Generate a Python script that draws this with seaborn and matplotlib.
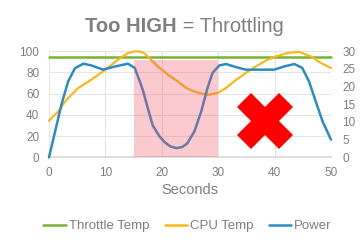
import matplotlib
matplotlib.use("Agg")
import matplotlib.pyplot as plt
import seaborn as sns
import pandas as pd
from matplotlib.patches import Rectangle
from matplotlib.lines import Line2D

# ---- data ----
seconds_ticks = [0, 10, 20, 30, 40, 50]
left_ticks = [0, 20, 40, 60, 80, 100]
right_ticks = [0, 5, 10, 15, 20, 25, 30]

throttle_x = [0, 50]
throttle_temp = [95, 95]

cpu_x = [0, 1.65, 3.1, 5.2, 7.5, 10, 12.2, 14, 15.4, 16.3, 17, 17.8, 19.3, 21.1,
         22.8, 24.3, 25.5, 26.7, 28.4, 29.9, 31.4, 33.2, 34.9, 36.7, 38.4, 39.9,
         42.3, 44.3, 46.4, 48.2, 50]
cpu_temp = [34.5, 43.4, 54.3, 65.4, 73.2, 82.6, 92, 98.4, 100, 99.6, 97.8, 93.5,
            85.8, 77.9, 71.7, 65.5, 62.5, 60.5, 59, 60.7, 65.4, 73.2, 79.5, 85.8,
            91.1, 94.6, 98.4, 99.5, 95.3, 89, 84.2]

power_x = [0, 1.1, 2.2, 3.4, 4.6, 6.1, 7.5, 9.6, 11.7, 14, 15.2, 16.1, 16.7, 17.5,
           18.4, 19.6, 20.5, 21.5, 22.6, 23.6, 24.5, 25.8, 27, 28.1, 29, 30.2,
           31.4, 33.2, 34.9, 39.9, 41.7, 43.5, 44.9, 46.1, 47.3, 48.5, 50]
power = [0, 7.4, 14.9, 21.5, 25.2, 26.5, 26.0, 24.8, 25.7, 26.5, 25.3, 21.5, 18.7,
         14.0, 9.0, 5.9, 4.3, 3.1, 2.6, 2.9, 3.9, 7.4, 13.0, 19.6, 23.9, 26.0,
         26.4, 25.5, 24.8, 24.8, 25.7, 26.4, 25.3, 21.5, 15.8, 10.2, 5.0]

throttle_zone = (15, 30, 92)   # x start, x end, top (left-axis units)
cross_at = (38.3, 34.7)

GREEN = "#78b433"
ORANGE = "#f9b81b"
BLUE = "#2b8cc4"
GREY = "#7f7f7f"

sns.set_theme(style="white")
plt.rcParams["font.family"] = ["Liberation Sans", "DejaVu Sans"]

fig = plt.figure(figsize=(3.64, 2.44), dpi=100)
ax = fig.add_axes([0.1346, 0.3553, 0.7747, 0.4345])
ax2 = ax.twinx()

df_t = pd.DataFrame({"x": throttle_x, "y": throttle_temp})
df_c = pd.DataFrame({"x": cpu_x, "y": cpu_temp})
df_p = pd.DataFrame({"x": power_x, "y": power})

sns.lineplot(data=df_t, x="x", y="y", ax=ax, color=GREEN, lw=1.8, zorder=3)
sns.lineplot(data=df_c, x="x", y="y", ax=ax, color=ORANGE, lw=1.6, zorder=3)
sns.lineplot(data=df_p, x="x", y="y", ax=ax2, color=BLUE, lw=1.8, zorder=3)
for a in (ax, ax2):
    for ln in a.get_lines():
        ln.set_clip_on(False)
        ln.set_solid_joinstyle("round")

ax.set_xlim(0, 50)
ax.set_ylim(0, 100)
ax2.set_ylim(0, 30)
ax.set_xticks(seconds_ticks)
ax.set_yticks(left_ticks)
ax2.set_yticks(right_ticks)

ax.grid(True, color="#e6e6e6", lw=0.8)
ax.set_axisbelow(True)
ax2.grid(False)
for a in (ax, ax2):
    for s in a.spines.values():
        s.set_visible(False)
ax.spines["bottom"].set_visible(True)
ax.spines["bottom"].set_color("#d9d9d9")

ax.tick_params(axis="both", length=0, pad=7, labelsize=8.5, labelcolor=GREY)
ax2.tick_params(axis="y", length=0, pad=8, labelsize=8.5, labelcolor=GREY)
ax.set_xlabel("Seconds", fontsize=10.5, color=GREY, labelpad=3)
ax.set_ylabel("")
ax2.set_ylabel("")

# pink throttling zone, overlaid
x0, x1, top = throttle_zone
ax2.add_patch(Rectangle((x0, 0), x1 - x0, top * 0.3, facecolor="#f25060",
                        alpha=0.3, edgecolor="none", zorder=4))

# red cross
ax.plot([cross_at[0]], [cross_at[1]], marker="X", markersize=40, color="#ff0000",
        markeredgewidth=0, zorder=5, clip_on=False)

# legend
handles = [Line2D([], [], color=GREEN, lw=1.8),
           Line2D([], [], color=ORANGE, lw=1.8),
           Line2D([], [], color=BLUE, lw=1.8)]
leg = fig.legend(handles, ["Throttle Temp", "CPU Temp", "Power"],
                 loc="center", bbox_to_anchor=(187.5 / 364, 1 - 226 / 244),
                 ncol=3, frameon=False, fontsize=9.5, handlelength=1.7,
                 handletextpad=0.2, columnspacing=1.2)
for t in leg.get_texts():
    t.set_color(GREY)

# title with bold part
t1 = fig.text(85 / 364, 1 - 32.3 / 244, "Too HIGH", fontsize=14.5,
              fontweight="bold", color=GREY, ha="left", va="baseline")
fig.canvas.draw()
bb = t1.get_window_extent(renderer=fig.canvas.get_renderer())
fig.text(bb.x1 / fig.bbox.width, 1 - 32.3 / 244, " = Throttling", fontsize=14.5,
         color=GREY, ha="left", va="baseline")

fig.savefig("out.png", dpi=100)
